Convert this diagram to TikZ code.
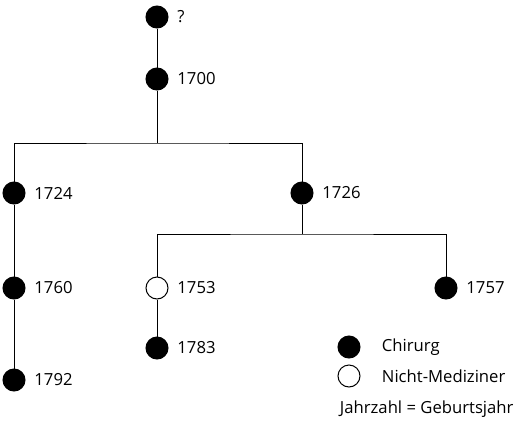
\documentclass[tikz,border=0pt]{standalone}
\usepackage{fontspec}
\setmainfont{Open Sans}
\usepackage{tikz}

\begin{document}
\begin{tikzpicture}[x = 0.75pt, y = -0.75pt, line width = 0.75pt,
                        full/.style = {circle, draw, fill = black, minimum size = 16.5pt, inner sep = 0pt},
                        empty/.style = {circle, draw, fill = white, minimum size = 16.5pt, inner sep = 0pt},
                        every label/.style = {font = \fontsize{12.5}{15}\selectfont, label distance = 3pt},
                        legend/.style = {anchor = west, font = \fontsize{12.5}{15}\selectfont}]
      \useasboundingbox (0, 0) rectangle (518, 422);
      % Stammbaum
      \node [full] (q) at (157, 17) [label = right:?]{};
      \node [full] (p1700) at (157, 79) [label = right:1700]{};
      \node [full] (p1724) at (14, 193) [label = right:1724]{};
      \node [full] (p1726) at (302, 193) [label = right:1726]{};
      \node [full] (p1760) at (14, 288) [label = right:1760]{};
      \node [empty] (p1753) at (157, 288) [label = right:1753]{};
      \node [full] (p1757) at (446, 288) [label = right:1757]{};
      \node [full] (p1783) at (157, 348) [label = right:1783]{};
      \node [full] (p1792) at (14, 380) [label = right:1792]{};
      \coordinate (j1) at (157, 143);
      \coordinate (j2) at (302, 234);
      \draw (q) -- (p1700) -- (j1);
      \draw (p1724) |- (j1) -| (p1726);
      \draw (p1726) -- (j2);
      \draw (p1753) |- (j2) -| (p1757);
      \draw (p1724) -- (p1760) -- (p1792);
      \draw (p1753) -- (p1783);
      % Legende
      \node [full] (l1) at (349, 347){};
      \node [empty] (l2) at (349, 376){};
      \node [legend] (t1) at (377, 347){Chirurg};
      \node [legend] (t2) at (377, 376){Nicht-Mediziner};
      \node [legend] (t3) at (335, 409){Jahrzahl = Geburtsjahr};
    \end{tikzpicture}
\end{document}
